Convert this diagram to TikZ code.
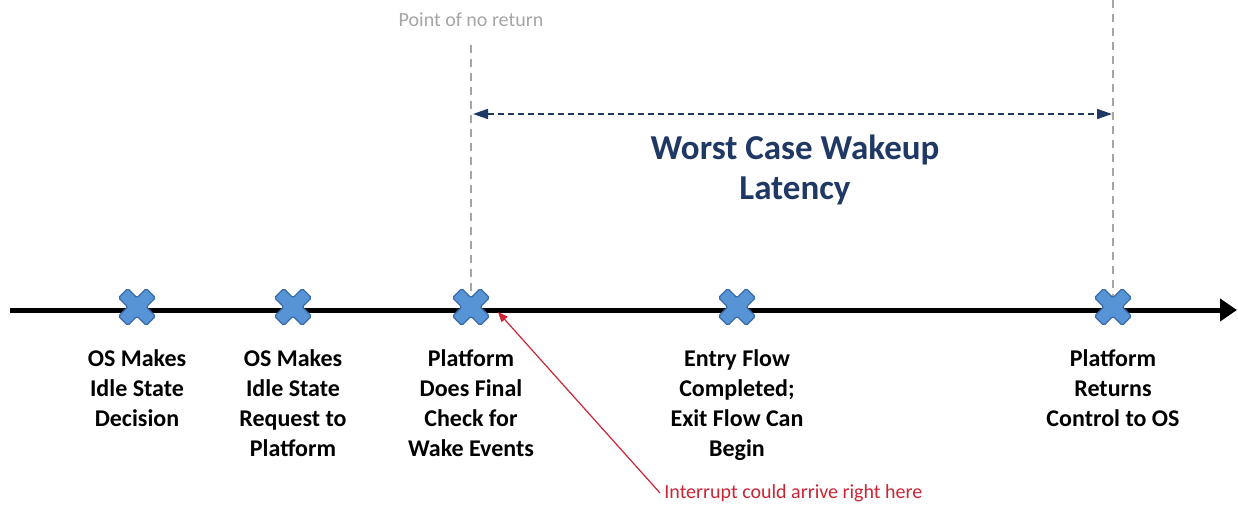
\documentclass[tikz,border=0pt]{standalone}
\usepackage{xcolor}
\usepackage{fontspec}
\setmainfont{Carlito}
\usetikzlibrary{arrows.meta,positioning,backgrounds}

\definecolor{xblue}{RGB}{86,148,214}
\definecolor{xedge}{RGB}{58,108,168}
\definecolor{navy}{RGB}{31,56,100}
\definecolor{alertred}{RGB}{204,36,52}
\definecolor{dashgray}{RGB}{165,165,165}

\tikzset{
  xnode/.style={minimum size=20pt, inner sep=0pt, path picture={
      \filldraw[fill=xblue, draw=xedge, line width=0.6pt, rounded corners=0.8pt,
        shift={(path picture bounding box.center)}]
        (0pt,4.6pt) -- (4.63pt,9.23pt) -- (9.23pt,4.63pt) -- (4.6pt,0pt)
        -- (9.23pt,-4.63pt) -- (4.63pt,-9.23pt) -- (0pt,-4.6pt) -- (-4.63pt,-9.23pt)
        -- (-9.23pt,-4.63pt) -- (-4.6pt,0pt) -- (-9.23pt,4.63pt) -- (-4.63pt,9.23pt) -- cycle;
    }},
  evtext/.style={font=\fontsize{12}{15}\selectfont\bfseries, align=center, inner sep=0pt},
  guide/.style={dashgray, line width=1pt, dash pattern=on 4pt off 3pt},
}

\begin{document}
\begin{tikzpicture}[x=0.5pt, y=-0.5pt]
    \useasboundingbox (0,0) rectangle (1238,508);

    % time axis and markers
    \coordinate (axstart) at (10,310);
    \coordinate (axend) at (1237,310);
    \node[xnode] (osdec) at (137,307) {};
    \node[xnode] (osreq) at (293,307) {};
    \node[xnode] (final) at (471,307) {};
    \node[xnode] (entry) at (737,307) {};
    \node[xnode] (ret) at (1113,307) {};

    \begin{scope}[on background layer]
      \draw[line width=2.5pt, -{Triangle[length=8.5pt,width=11pt]}] (axstart) -- (axend);
      % point of no return / return guides
      \coordinate (nrtop) at (471,45);
      \coordinate (rettop) at (1113,0);
      \draw[guide] (nrtop) -- (final.center);
      \draw[guide] (rettop) -- (ret.center);
    \end{scope}

    \node[dashgray, font=\fontsize{10}{12}\selectfont] (nrlabel) at (471,20) {Point of no return};

    % latency span
    \coordinate (spanl) at (473,114);
    \coordinate (spanr) at (1112,114);
    \draw[navy, line width=0.8pt, densely dashed, {Triangle[length=7.5pt,width=5pt]}-{Triangle[length=7.5pt,width=5pt]}] (spanl) -- (spanr);
    \node[navy, font=\fontsize{17.5}{20}\selectfont\bfseries, align=center] (latency) at (795,170) {Worst Case Wakeup\\Latency};

    % event labels
    \node[evtext, below=11pt of osdec] (osdectxt) {OS Makes\\Idle State\\Decision};
    \node[evtext, below=11pt of osreq] (osreqtxt) {OS Makes\\Idle State\\Request to\\Platform};
    \node[evtext, below=11pt of final] (finaltxt) {Platform\\Does Final\\Check for\\Wake Events};
    \node[evtext, below=11pt of entry] (entrytxt) {Entry Flow\\Completed;\\Exit Flow Can\\Begin};
    \node[evtext, below=11pt of ret] (rettxt) {Platform\\Returns\\Control to OS};

    % interrupt
    \node[alertred, font=\fontsize{10}{12}\selectfont, anchor=west, inner sep=2pt] (irq) at (660,493) {Interrupt could arrive right here};
    \coordinate (irqtip) at (498,312);
    \draw[alertred, line width=0.6pt, -{Triangle[length=5pt,width=4pt]}] (irq.west) -- (irqtip);
\end{tikzpicture}
\end{document}
